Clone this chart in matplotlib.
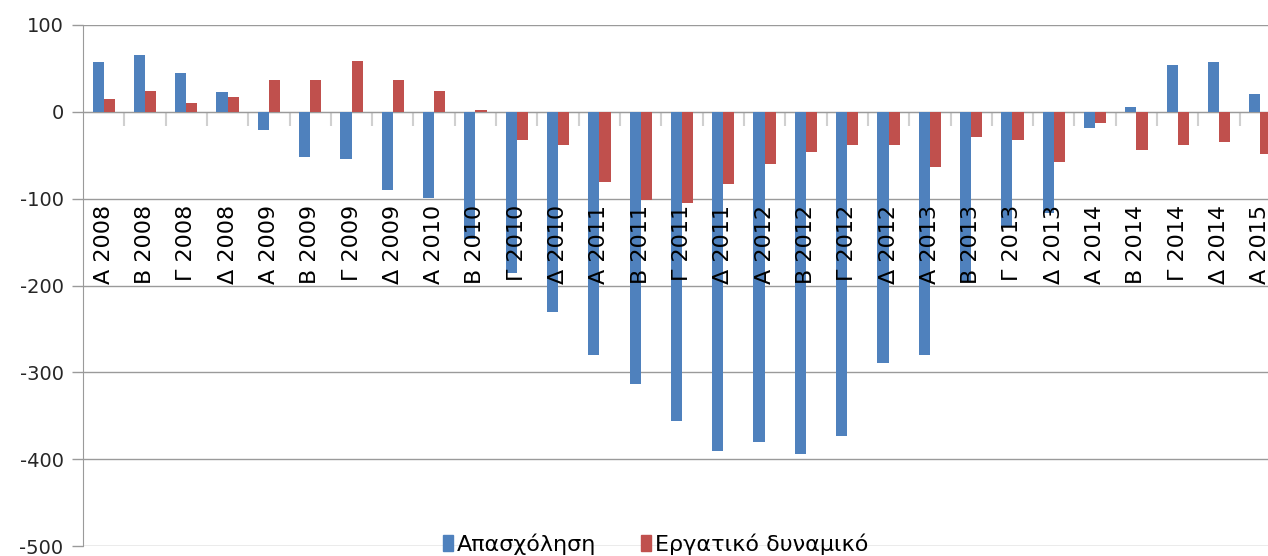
import numpy as np
import matplotlib
matplotlib.use("Agg")
import matplotlib.pyplot as plt
import matplotlib.patches as mpatches

plt.rcParams["axes.unicode_minus"] = False

# quarter labels (Greek) and years
quarters = ["Α", "Β", "Γ", "Δ"] * 7 + ["Α"]
years = ["2008"] * 4 + ["2009"] * 4 + ["2010"] * 4 + ["2011"] * 4 + \
        ["2012"] * 4 + ["2013"] * 4 + ["2014"] * 4 + ["2015"]
categories = [f"{q} {y}" for q, y in zip(quarters, years)]

# annual change, thousands
employment = [57, 66, 45, 23, -21, -52, -54, -90,
              -99, -146, -186, -230, -280, -313, -356, -391,
              -380, -394, -373, -289, -280, -195, -133, -116,
              -19, 5, 54, 57, 21]
labour_force = [15, 24, 10, 17, 37, 37, 59, 37,
                24, 2, -33, -38, -81, -101, -105, -83,
                -60, -46, -38, -38, -63, -29, -32, -58,
                -13, -44, -38, -35, -48]

BLUE = "#4F81BD"
RED = "#C0504D"
GRID = "#9A9A9A"

fig = plt.figure(figsize=(12.68, 5.56), dpi=100)
ax = fig.add_axes([83 / 1268, 1 - 546 / 556, 1198 / 1268, 521 / 556])

x = np.arange(len(categories))
w = 0.27
ax.bar(x - w / 2, employment, width=w, color=BLUE, zorder=3)
ax.bar(x + w / 2, labour_force, width=w, color=RED, zorder=3)

ax.set_xlim(-0.5, len(categories) - 0.5)
ax.set_ylim(-500, 100)
ax.set_yticks(range(-500, 101, 100))
ax.tick_params(axis="y", labelsize=14, length=8, width=1,
               color=GRID, labelcolor="#262626", pad=6)
ax.yaxis.grid(True, color=GRID, lw=1, zorder=0)

# category axis sits on zero with ticks between categories
ax.spines["bottom"].set_position(("data", 0))
ax.spines["bottom"].set_color(GRID)
ax.spines["left"].set_color(GRID)
ax.spines["top"].set_visible(False)
ax.spines["right"].set_visible(False)
ax.set_xticks(x + 0.5)
ax.set_xticklabels([])
ax.tick_params(axis="x", length=10, width=1.5, color="#D0D0D0", direction="out")

for xi, lab in zip(x, categories):
    ax.text(xi, -107, lab, rotation=90, ha="center", va="top",
            fontsize=16, color="black", zorder=4)

handles = [mpatches.Patch(color=BLUE, label="Απασχόληση"),
           mpatches.Patch(color=RED, label="Εργατικό δυναμικό")]
fig.legend(handles=handles, loc="center", bbox_to_anchor=(0.517, 1 - 544 / 556),
           ncol=2, frameon=False, fontsize=16, handlelength=0.45, handleheight=0.7,
           handletextpad=0.2, columnspacing=2.0)

fig.savefig("out.png", dpi=100)
